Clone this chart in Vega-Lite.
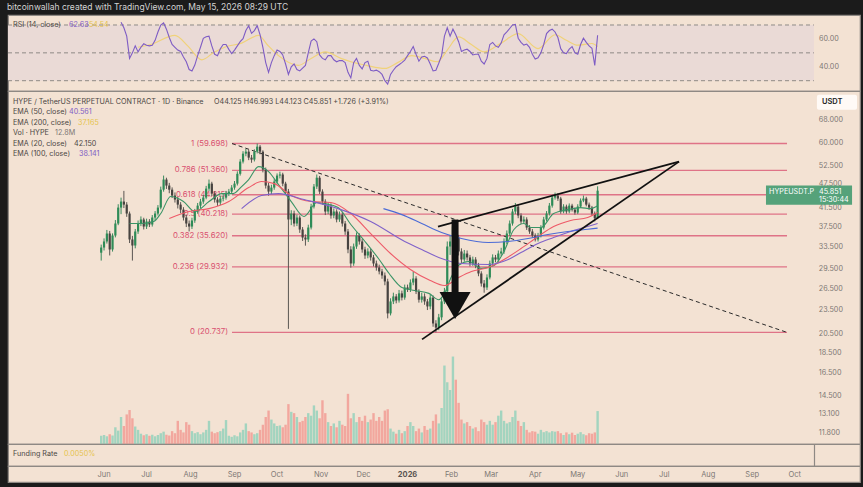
{
"$schema":"https://vega.github.io/schema/vega-lite/v6.json",
"background":"#1b1b1b",
"padding":{"left":6,"top":2,"right":5,"bottom":6},
"spacing":0,
"bounds":"flush",
"title":{"text":"bitcoinwallah created with TradingView.com, May 15, 2026 08:29 UTC","anchor":"start","color":"#d4d4d4","fontSize":8.5,"fontWeight":"normal","offset":3},
"config":{"view":{"stroke":"#8e8984","strokeWidth":1.2,"fill":"#f3e2d3"},"font":"Inter","scale":{"continuousPadding":0}},
"datasets":{
"k":[
{"d":"2025-05-30","o":32.4,"h":33.9,"l":31,"c":33.35,"v":3.2},
{"d":"2025-06-01","o":33.35,"h":35.1,"l":32.8,"c":34.5,"v":3.5},
{"d":"2025-06-03","o":34.5,"h":36.8,"l":34.1,"c":36.07,"v":3},
{"d":"2025-06-05","o":36.07,"h":36.6,"l":31.9,"c":32.99,"v":3.8},
{"d":"2025-06-07","o":32.99,"h":36.1,"l":32.6,"c":35.67,"v":3.3},
{"d":"2025-06-09","o":35.67,"h":38.9,"l":35.3,"c":38.15,"v":6.5},
{"d":"2025-06-11","o":38.15,"h":42.5,"l":37.8,"c":41.71,"v":5.2},
{"d":"2025-06-13","o":41.71,"h":44.1,"l":40.2,"c":43.14,"v":10.5,"r":72},
{"d":"2025-06-15","o":43.14,"h":45.8,"l":41.6,"c":42.41,"v":7,"r":68},
{"d":"2025-06-17","o":42.41,"h":43,"l":39.6,"c":40.34,"v":11.5,"r":62},
{"d":"2025-06-19","o":40.34,"h":40.8,"l":34.2,"c":34.89,"v":13.2,"r":46},
{"d":"2025-06-21","o":34.89,"h":35.6,"l":31,"c":33.73,"v":10,"r":50},
{"d":"2025-06-23","o":33.73,"h":37,"l":33.2,"c":36.48,"v":6.8,"r":55},
{"d":"2025-06-25","o":36.48,"h":38.8,"l":36,"c":38.15,"v":5.5,"r":50.7},
{"d":"2025-06-27","o":38.15,"h":39.7,"l":37.6,"c":39.02,"v":4,"r":54},
{"d":"2025-06-29","o":39.02,"h":39.4,"l":36.9,"c":37.51,"v":3.4,"r":56.5},
{"d":"2025-07-01","o":37.51,"h":39.2,"l":37,"c":38.58,"v":3.8,"r":55.5},
{"d":"2025-07-03","o":38.58,"h":39.1,"l":37.4,"c":37.94,"v":3.2,"r":55},
{"d":"2025-07-05","o":37.94,"h":40,"l":37.5,"c":39.45,"v":3.6,"r":55.5},
{"d":"2025-07-07","o":39.45,"h":40.9,"l":38.9,"c":40.34,"v":3,"r":59},
{"d":"2025-07-09","o":40.34,"h":42.3,"l":39.9,"c":41.71,"v":3.5,"r":65},
{"d":"2025-07-11","o":41.71,"h":46.9,"l":41.3,"c":46.11,"v":4.2,"r":70},
{"d":"2025-07-13","o":46.11,"h":49.9,"l":45.6,"c":48.8,"v":4.8,"r":71.5},
{"d":"2025-07-15","o":48.8,"h":49.3,"l":46.3,"c":47.18,"v":3.6,"r":67},
{"d":"2025-07-17","o":47.18,"h":47.9,"l":45.2,"c":46.11,"v":3.3,"r":61},
{"d":"2025-07-19","o":46.11,"h":46.7,"l":44,"c":44.62,"v":5,"r":56},
{"d":"2025-07-21","o":44.62,"h":45.4,"l":42.9,"c":43.63,"v":4.2,"r":54},
{"d":"2025-07-23","o":43.63,"h":44.3,"l":41.5,"c":42.41,"v":9,"r":52},
{"d":"2025-07-25","o":42.41,"h":43,"l":40.4,"c":41.24,"v":5.5,"r":51},
{"d":"2025-07-27","o":41.24,"h":41.8,"l":38.8,"c":39.45,"v":4.5,"r":47},
{"d":"2025-07-29","o":39.45,"h":40.1,"l":37.4,"c":38.15,"v":8.5,"r":43.6},
{"d":"2025-07-31","o":38.15,"h":38.8,"l":36.5,"c":37.51,"v":7.5,"r":38},
{"d":"2025-08-02","o":37.51,"h":39.4,"l":37,"c":38.8,"v":5,"r":37},
{"d":"2025-08-04","o":38.8,"h":41.4,"l":38.3,"c":40.8,"v":4.2,"r":41.2},
{"d":"2025-08-06","o":40.8,"h":42.8,"l":40.3,"c":42.17,"v":4.6,"r":48},
{"d":"2025-08-08","o":42.17,"h":43.8,"l":41.6,"c":43.14,"v":3.8,"r":54},
{"d":"2025-08-10","o":43.14,"h":44.8,"l":42.6,"c":44.12,"v":4.5,"r":60.4},
{"d":"2025-08-12","o":44.12,"h":47.1,"l":43.7,"c":46.38,"v":5.5,"r":61.5},
{"d":"2025-08-14","o":46.38,"h":48.8,"l":45.8,"c":47.7,"v":9,"r":62},
{"d":"2025-08-16","o":47.7,"h":48.2,"l":44.5,"c":45.1,"v":4.8,"r":55},
{"d":"2025-08-18","o":45.1,"h":45.7,"l":42.9,"c":43.63,"v":4.2,"r":49},
{"d":"2025-08-20","o":43.63,"h":44.2,"l":42.1,"c":42.9,"v":4.6,"r":48},
{"d":"2025-08-22","o":42.9,"h":44.6,"l":42.3,"c":43.87,"v":5,"r":53},
{"d":"2025-08-24","o":43.87,"h":45,"l":43.2,"c":44.12,"v":6,"r":56},
{"d":"2025-08-26","o":44.12,"h":45.8,"l":43.6,"c":45.1,"v":9.3,"r":56},
{"d":"2025-08-28","o":45.1,"h":46.3,"l":44.5,"c":45.62,"v":3.2,"r":52.5},
{"d":"2025-08-30","o":45.62,"h":47.3,"l":45,"c":46.65,"v":2.8,"r":49.5},
{"d":"2025-09-01","o":46.65,"h":48.4,"l":46.1,"c":47.7,"v":3.4,"r":52},
{"d":"2025-09-03","o":47.7,"h":51.1,"l":47.2,"c":50.4,"v":3,"r":55},
{"d":"2025-09-05","o":50.4,"h":54.7,"l":49.9,"c":53.96,"v":4.5,"r":58},
{"d":"2025-09-07","o":53.96,"h":57.2,"l":53.4,"c":56.42,"v":5.5,"r":60.2},
{"d":"2025-09-09","o":56.42,"h":57.9,"l":55.6,"c":57.05,"v":8,"r":66},
{"d":"2025-09-11","o":57.05,"h":57.6,"l":54.4,"c":55.17,"v":5,"r":69.5},
{"d":"2025-09-13","o":55.17,"h":56,"l":53.6,"c":54.56,"v":4.5,"r":64},
{"d":"2025-09-15","o":54.56,"h":57.8,"l":54,"c":57.05,"v":3.8,"r":66},
{"d":"2025-09-17","o":57.05,"h":59.7,"l":56.5,"c":58.67,"v":4.2,"r":69.5},
{"d":"2025-09-19","o":58.67,"h":59.2,"l":56.2,"c":57.05,"v":5.5,"r":63},
{"d":"2025-09-21","o":57.05,"h":57.5,"l":50.8,"c":51.6,"v":7.5,"r":54},
{"d":"2025-09-23","o":51.6,"h":52.2,"l":46.4,"c":47.18,"v":10.5,"r":43},
{"d":"2025-09-25","o":47.18,"h":47.9,"l":44.6,"c":45.62,"v":13,"r":36},
{"d":"2025-09-27","o":45.62,"h":47.4,"l":45,"c":46.65,"v":9.5,"r":43},
{"d":"2025-09-29","o":46.65,"h":48.9,"l":46.1,"c":48.25,"v":8,"r":48},
{"d":"2025-10-01","o":48.25,"h":50.5,"l":47.7,"c":49.9,"v":7,"r":52},
{"d":"2025-10-03","o":49.9,"h":51,"l":49.1,"c":50.2,"v":7.2,"r":51},
{"d":"2025-10-05","o":50.2,"h":50.7,"l":47,"c":47.7,"v":6.5,"r":48.5},
{"d":"2025-10-07","o":47.7,"h":48.2,"l":44.9,"c":45.62,"v":7.5,"r":42},
{"d":"2025-10-09","o":45.62,"h":46.3,"l":21.15,"c":39.02,"v":15.5,"r":34.5},
{"d":"2025-10-11","o":39.02,"h":41.1,"l":37.8,"c":40.34,"v":12.5,"r":40},
{"d":"2025-10-13","o":40.34,"h":41,"l":37.5,"c":38.15,"v":12,"r":42},
{"d":"2025-10-15","o":38.15,"h":40.1,"l":37.6,"c":39.45,"v":10.5,"r":38},
{"d":"2025-10-17","o":39.45,"h":39.9,"l":36.2,"c":36.89,"v":8.5,"r":37},
{"d":"2025-10-19","o":36.89,"h":37.4,"l":34.6,"c":35.27,"v":9,"r":39},
{"d":"2025-10-21","o":35.27,"h":35.9,"l":33.7,"c":34.89,"v":10.5,"r":41},
{"d":"2025-10-23","o":34.89,"h":37.9,"l":34.4,"c":37.3,"v":12,"r":50},
{"d":"2025-10-25","o":37.3,"h":42.6,"l":36.9,"c":41.95,"v":11,"r":58.5},
{"d":"2025-10-27","o":41.95,"h":47.6,"l":41.5,"c":46.92,"v":15,"r":60},
{"d":"2025-10-29","o":46.92,"h":50.2,"l":46.3,"c":49.3,"v":13,"r":58},
{"d":"2025-10-31","o":49.3,"h":49.8,"l":45,"c":45.62,"v":10,"r":48.5},
{"d":"2025-11-02","o":45.62,"h":46.2,"l":42.4,"c":43.14,"v":17,"r":46},
{"d":"2025-11-04","o":43.14,"h":43.7,"l":40,"c":40.8,"v":12,"r":45},
{"d":"2025-11-06","o":40.8,"h":42.9,"l":40.2,"c":42.17,"v":8.5,"r":48},
{"d":"2025-11-08","o":42.17,"h":42.7,"l":39.2,"c":39.9,"v":7,"r":48},
{"d":"2025-11-10","o":39.9,"h":41.5,"l":39.3,"c":40.8,"v":8,"r":45},
{"d":"2025-11-12","o":40.8,"h":41.3,"l":38.4,"c":39.02,"v":6.5,"r":43.6},
{"d":"2025-11-14","o":39.02,"h":40.8,"l":38.5,"c":40.1,"v":9,"r":44.5},
{"d":"2025-11-16","o":40.1,"h":40.6,"l":37.5,"c":38.15,"v":7.5,"r":44.4},
{"d":"2025-11-18","o":38.15,"h":38.7,"l":35.8,"c":36.48,"v":7,"r":43},
{"d":"2025-11-20","o":36.48,"h":37,"l":32.3,"c":32.99,"v":19.5,"r":36},
{"d":"2025-11-22","o":32.99,"h":33.6,"l":29.8,"c":30.5,"v":10,"r":32},
{"d":"2025-11-24","o":30.5,"h":34.1,"l":30.1,"c":33.54,"v":12,"r":43},
{"d":"2025-11-26","o":33.54,"h":36.3,"l":33.1,"c":35.67,"v":8.5,"r":46},
{"d":"2025-11-28","o":35.67,"h":36.1,"l":33.9,"c":34.5,"v":10.5,"r":41},
{"d":"2025-11-30","o":34.5,"h":35,"l":32.4,"c":32.99,"v":9,"r":38.5},
{"d":"2025-12-02","o":32.99,"h":33.5,"l":31.3,"c":31.9,"v":11,"r":43},
{"d":"2025-12-04","o":31.9,"h":33.2,"l":31.4,"c":32.62,"v":8.5,"r":44},
{"d":"2025-12-06","o":32.62,"h":33.1,"l":31,"c":31.55,"v":9.5,"r":37.5},
{"d":"2025-12-08","o":31.55,"h":32,"l":30,"c":30.5,"v":12,"r":37},
{"d":"2025-12-10","o":30.5,"h":31,"l":29.3,"c":29.83,"v":9,"r":37.6},
{"d":"2025-12-12","o":29.83,"h":30.3,"l":28.7,"c":29.17,"v":10.5,"r":36.5},
{"d":"2025-12-14","o":29.17,"h":29.6,"l":28,"c":28.52,"v":9,"r":34.5},
{"d":"2025-12-16","o":28.52,"h":29,"l":27,"c":27.58,"v":13,"r":30},
{"d":"2025-12-18","o":27.58,"h":28,"l":22.43,"c":23.06,"v":13.5,"r":27.5},
{"d":"2025-12-20","o":23.06,"h":25.1,"l":22.8,"c":24.66,"v":6,"r":34.5},
{"d":"2025-12-22","o":24.66,"h":25.9,"l":24.3,"c":25.36,"v":4.8,"r":37.5},
{"d":"2025-12-24","o":25.36,"h":25.7,"l":24.4,"c":24.8,"v":4,"r":40},
{"d":"2025-12-26","o":24.8,"h":26.3,"l":24.5,"c":25.8,"v":5.5,"r":41.5},
{"d":"2025-12-28","o":25.8,"h":26.2,"l":24.8,"c":25.2,"v":4.2,"r":43},
{"d":"2025-12-30","o":25.2,"h":27.1,"l":24.9,"c":26.67,"v":5,"r":44.8},
{"d":"2026-01-01","o":26.67,"h":27.1,"l":26,"c":26.37,"v":7,"r":48},
{"d":"2026-01-03","o":26.37,"h":27.9,"l":26,"c":27.42,"v":8.5,"r":51},
{"d":"2026-01-05","o":27.42,"h":29.17,"l":27,"c":28.04,"v":7,"r":54.5},
{"d":"2026-01-07","o":28.04,"h":28.4,"l":25.7,"c":26.08,"v":5,"r":49},
{"d":"2026-01-09","o":26.08,"h":26.4,"l":24.5,"c":24.9,"v":6,"r":44},
{"d":"2026-01-11","o":24.9,"h":25.9,"l":24.5,"c":25.36,"v":4.5,"r":47},
{"d":"2026-01-13","o":25.36,"h":25.8,"l":24.2,"c":24.66,"v":7,"r":47.5},
{"d":"2026-01-15","o":24.66,"h":25,"l":23.5,"c":23.98,"v":5.5,"r":46.3},
{"d":"2026-01-17","o":23.98,"h":25.6,"l":23.6,"c":25.2,"v":6,"r":42},
{"d":"2026-01-19","o":25.2,"h":25.5,"l":21.4,"c":21.8,"v":9,"r":37},
{"d":"2026-01-21","o":21.8,"h":22.2,"l":20.74,"c":21.3,"v":11.5,"r":37.5},
{"d":"2026-01-23","o":21.3,"h":23,"l":21,"c":22.56,"v":8,"r":42.5},
{"d":"2026-01-25","o":22.56,"h":25.1,"l":22.2,"c":24.66,"v":14,"r":48},
{"d":"2026-01-27","o":24.66,"h":26.6,"l":24.3,"c":26.08,"v":30.5,"r":62},
{"d":"2026-01-29","o":26.08,"h":34.5,"l":25.8,"c":33.54,"v":24,"r":68},
{"d":"2026-01-31","o":33.54,"h":35.8,"l":32,"c":34.5,"v":21,"r":62},
{"d":"2026-02-02","o":34.5,"h":39,"l":33.8,"c":37.51,"v":34,"r":67},
{"d":"2026-02-04","o":37.51,"h":38.1,"l":34.5,"c":35.27,"v":25,"r":63},
{"d":"2026-02-06","o":35.27,"h":35.8,"l":31.9,"c":32.62,"v":16,"r":58},
{"d":"2026-02-08","o":32.62,"h":33.2,"l":30.6,"c":31.19,"v":9.5,"r":51},
{"d":"2026-02-10","o":31.19,"h":32.9,"l":30.8,"c":32.25,"v":8,"r":52},
{"d":"2026-02-12","o":32.25,"h":32.8,"l":31,"c":31.55,"v":8.5,"r":52.6},
{"d":"2026-02-14","o":31.55,"h":32,"l":30,"c":30.5,"v":7,"r":51},
{"d":"2026-02-16","o":30.5,"h":31.7,"l":30.1,"c":31.19,"v":6,"r":48.5},
{"d":"2026-02-18","o":31.19,"h":31.6,"l":29.7,"c":30.17,"v":6.5,"r":49},
{"d":"2026-02-20","o":30.17,"h":30.6,"l":28.4,"c":28.84,"v":5,"r":49},
{"d":"2026-02-22","o":28.84,"h":29.2,"l":26.8,"c":27.27,"v":9.5,"r":44},
{"d":"2026-02-24","o":27.27,"h":27.8,"l":25.9,"c":26.67,"v":8.5,"r":42},
{"d":"2026-02-26","o":26.67,"h":28.7,"l":26.3,"c":28.2,"v":7.5,"r":46},
{"d":"2026-02-28","o":28.2,"h":31,"l":27.9,"c":30.5,"v":9,"r":56},
{"d":"2026-03-02","o":30.5,"h":32.1,"l":30.1,"c":31.55,"v":7.5,"r":57.5},
{"d":"2026-03-04","o":31.55,"h":32,"l":30.7,"c":31.19,"v":8.5,"r":55},
{"d":"2026-03-06","o":31.19,"h":32.8,"l":30.8,"c":32.25,"v":11,"r":54},
{"d":"2026-03-08","o":32.25,"h":33.3,"l":31.8,"c":32.62,"v":13,"r":57},
{"d":"2026-03-10","o":32.62,"h":35.1,"l":32.2,"c":34.5,"v":9,"r":63},
{"d":"2026-03-12","o":34.5,"h":36.7,"l":34,"c":36.07,"v":8,"r":65},
{"d":"2026-03-14","o":36.07,"h":38.8,"l":35.6,"c":38.15,"v":8.5,"r":67.5},
{"d":"2026-03-16","o":38.15,"h":41.4,"l":37.7,"c":40.8,"v":10.5,"r":70},
{"d":"2026-03-18","o":40.8,"h":42.8,"l":40.2,"c":41.95,"v":13,"r":70.5},
{"d":"2026-03-20","o":41.95,"h":42.4,"l":39.3,"c":39.9,"v":9,"r":60.5},
{"d":"2026-03-22","o":39.9,"h":40.4,"l":38,"c":38.58,"v":7,"r":57.5},
{"d":"2026-03-24","o":38.58,"h":39.7,"l":38.1,"c":39.02,"v":8.5,"r":55.6},
{"d":"2026-03-26","o":39.02,"h":39.5,"l":36.8,"c":37.3,"v":5.5,"r":56.3},
{"d":"2026-03-28","o":37.3,"h":37.8,"l":36,"c":36.48,"v":4.5,"r":54},
{"d":"2026-03-30","o":36.48,"h":37,"l":35.2,"c":35.67,"v":5,"r":49},
{"d":"2026-04-01","o":35.67,"h":36.1,"l":34.5,"c":34.89,"v":4.8,"r":45.5},
{"d":"2026-04-03","o":34.89,"h":36.2,"l":34.5,"c":35.67,"v":4,"r":46.5},
{"d":"2026-04-05","o":35.67,"h":37.8,"l":35.3,"c":37.3,"v":5.5,"r":50},
{"d":"2026-04-07","o":37.3,"h":39.6,"l":36.9,"c":39.02,"v":4.6,"r":56},
{"d":"2026-04-09","o":39.02,"h":40.9,"l":38.6,"c":40.34,"v":5,"r":63.8},
{"d":"2026-04-11","o":40.34,"h":42.8,"l":39.9,"c":42.17,"v":4.5,"r":66},
{"d":"2026-04-13","o":42.17,"h":44.8,"l":41.7,"c":44.12,"v":5,"r":67},
{"d":"2026-04-15","o":44.12,"h":45.36,"l":43.6,"c":44.62,"v":4.8,"r":65},
{"d":"2026-04-17","o":44.62,"h":45.2,"l":43.3,"c":43.87,"v":5,"r":61},
{"d":"2026-04-19","o":43.87,"h":44.3,"l":40.3,"c":40.8,"v":4.2,"r":53},
{"d":"2026-04-21","o":40.8,"h":42.5,"l":40.4,"c":41.95,"v":3.5,"r":50},
{"d":"2026-04-23","o":41.95,"h":42.4,"l":40.3,"c":40.8,"v":4.5,"r":49.5},
{"d":"2026-04-25","o":40.8,"h":42.7,"l":40.4,"c":42.17,"v":3.8,"r":52.7},
{"d":"2026-04-27","o":42.17,"h":42.6,"l":40.8,"c":41.24,"v":4.4,"r":54.5},
{"d":"2026-04-29","o":41.24,"h":41.7,"l":40.1,"c":40.57,"v":3.5,"r":50},
{"d":"2026-05-01","o":40.57,"h":42.5,"l":40.2,"c":41.95,"v":4,"r":49},
{"d":"2026-05-03","o":41.95,"h":43.9,"l":41.6,"c":43.38,"v":4.6,"r":56},
{"d":"2026-05-05","o":43.38,"h":44.62,"l":43,"c":43.87,"v":3.8,"r":60.5},
{"d":"2026-05-07","o":43.87,"h":44.3,"l":42,"c":42.41,"v":3.4,"r":57.5},
{"d":"2026-05-09","o":42.41,"h":42.9,"l":41.2,"c":41.71,"v":4.2,"r":55},
{"d":"2026-05-11","o":41.71,"h":42.1,"l":39.9,"c":40.34,"v":4,"r":53.3},
{"d":"2026-05-13","o":40.34,"h":40.8,"l":38.6,"c":39.3,"v":4.5,"r":41},
{"d":"2026-05-15","o":39.3,"h":46.99,"l":39.1,"c":45.85,"v":12.8,"r":62.6}
],
"ema":[
{"d":"2025-06-19","s":"e20","p":38.15},{"d":"2025-06-27","s":"e20","p":38.15},{"d":"2025-07-06","s":"e20","p":38.58},{"d":"2025-07-11","s":"e20","p":40.34},{"d":"2025-07-18","s":"e20","p":44.37},{"d":"2025-07-27","s":"e20","p":43.14},{"d":"2025-08-04","s":"e20","p":40.8},{"d":"2025-08-14","s":"e20","p":43.14},{"d":"2025-08-23","s":"e20","p":45.1},{"d":"2025-08-31","s":"e20","p":45.1},{"d":"2025-09-06","s":"e20","p":46.92},{"d":"2025-09-11","s":"e20","p":48.8},{"d":"2025-09-18","s":"e20","p":52.47},{"d":"2025-09-25","s":"e20","p":51.02},{"d":"2025-10-02","s":"e20","p":47.45},{"d":"2025-10-11","s":"e20","p":43.14},{"d":"2025-10-20","s":"e20","p":39.67},{"d":"2025-10-29","s":"e20","p":42.9},{"d":"2025-11-03","s":"e20","p":42.65},{"d":"2025-11-13","s":"e20","p":41.71},{"d":"2025-11-22","s":"e20","p":37.94},{"d":"2025-12-02","s":"e20","p":34.5},{"d":"2025-12-12","s":"e20","p":31.19},{"d":"2025-12-19","s":"e20","p":28.84},{"d":"2025-12-28","s":"e20","p":26.67},{"d":"2026-01-06","s":"e20","p":26.23},{"d":"2026-01-16","s":"e20","p":25.8},{"d":"2026-01-23","s":"e20","p":24.9},{"d":"2026-01-27","s":"e20","p":25.8},{"d":"2026-02-01","s":"e20","p":28.36},{"d":"2026-02-06","s":"e20","p":30.2},{"d":"2026-02-13","s":"e20","p":30.84},{"d":"2026-02-22","s":"e20","p":29.67},{"d":"2026-03-03","s":"e20","p":30.17},{"d":"2026-03-10","s":"e20","p":32.62},{"d":"2026-03-17","s":"e20","p":36.89},{"d":"2026-03-24","s":"e20","p":38.15},{"d":"2026-03-29","s":"e20","p":37.3},{"d":"2026-04-05","s":"e20","p":37.3},{"d":"2026-04-14","s":"e20","p":40.34},{"d":"2026-04-24","s":"e20","p":41.24},{"d":"2026-05-03","s":"e20","p":41.71},{"d":"2026-05-10","s":"e20","p":41.47},{"d":"2026-05-15","s":"e20","p":42.15},
{"d":"2025-07-17","s":"e50","p":39.24},{"d":"2025-07-31","s":"e50","p":40.8},{"d":"2025-08-14","s":"e50","p":41.47},{"d":"2025-08-28","s":"e50","p":43.14},{"d":"2025-09-11","s":"e50","p":46.65},{"d":"2025-09-20","s":"e50","p":48.25},{"d":"2025-09-29","s":"e50","p":47.7},{"d":"2025-10-11","s":"e50","p":44.62},{"d":"2025-10-25","s":"e50","p":43.14},{"d":"2025-11-08","s":"e50","p":42.9},{"d":"2025-11-22","s":"e50","p":40.34},{"d":"2025-12-06","s":"e50","p":36.07},{"d":"2025-12-20","s":"e50","p":32.25},{"d":"2026-01-03","s":"e50","p":29.5},{"d":"2026-01-17","s":"e50","p":27.73},{"d":"2026-01-27","s":"e50","p":26.96},{"d":"2026-02-06","s":"e50","p":28.2},{"d":"2026-02-15","s":"e50","p":29.17},{"d":"2026-02-27","s":"e50","p":29.83},{"d":"2026-03-10","s":"e50","p":31.19},{"d":"2026-03-22","s":"e50","p":33.16},{"d":"2026-04-03","s":"e50","p":35.47},{"d":"2026-04-14","s":"e50","p":37.51},{"d":"2026-04-26","s":"e50","p":38.8},{"d":"2026-05-08","s":"e50","p":39.45},{"d":"2026-05-15","s":"e50","p":40.56},
{"d":"2025-09-06","s":"e100","p":41.47},{"d":"2025-09-20","s":"e100","p":44.62},{"d":"2025-10-02","s":"e100","p":45.1},{"d":"2025-10-20","s":"e100","p":43.63},{"d":"2025-11-13","s":"e100","p":41.47},{"d":"2025-12-06","s":"e100","p":38.58},{"d":"2025-12-30","s":"e100","p":34.5},{"d":"2026-01-11","s":"e100","p":32.99},{"d":"2026-01-23","s":"e100","p":31.55},{"d":"2026-02-08","s":"e100","p":30.5},{"d":"2026-02-27","s":"e100","p":30.33},{"d":"2026-03-13","s":"e100","p":31.19},{"d":"2026-03-22","s":"e100","p":32.43},{"d":"2026-04-03","s":"e100","p":34.12},{"d":"2026-04-14","s":"e100","p":35.27},{"d":"2026-04-26","s":"e100","p":36.48},{"d":"2026-05-08","s":"e100","p":37.51},{"d":"2026-05-15","s":"e100","p":38.14},
{"d":"2025-12-15","s":"e200","p":41.47},{"d":"2025-12-28","s":"e200","p":40.1},{"d":"2026-01-11","s":"e200","p":38.15},{"d":"2026-01-25","s":"e200","p":36.27},{"d":"2026-02-08","s":"e200","p":35.08},{"d":"2026-02-27","s":"e200","p":34.31},{"d":"2026-03-13","s":"e200","p":34.5},{"d":"2026-03-27","s":"e200","p":35.08},{"d":"2026-04-10","s":"e200","p":35.87},{"d":"2026-04-24","s":"e200","p":36.48},{"d":"2026-05-08","s":"e200","p":36.94},{"d":"2026-05-15","s":"e200","p":37.17}
],
"rma":[
{"d":"2025-06-25","r":54},{"d":"2025-07-04","r":56},{"d":"2025-07-21","r":62.6},{"d":"2025-07-30","r":55},{"d":"2025-08-09","r":45},{"d":"2025-08-17","r":50},{"d":"2025-08-25","r":54},{"d":"2025-09-06","r":57},{"d":"2025-09-18","r":62.6},{"d":"2025-09-24","r":56},{"d":"2025-10-02","r":48},{"d":"2025-10-16","r":41},{"d":"2025-10-25","r":46},{"d":"2025-11-04","r":50.7},{"d":"2025-11-15","r":46},{"d":"2025-11-22","r":43.6},{"d":"2025-12-03","r":41},{"d":"2025-12-16","r":38.8},{"d":"2025-12-25","r":43},{"d":"2026-01-04","r":48},{"d":"2026-01-13","r":46},{"d":"2026-01-22","r":43.6},{"d":"2026-01-29","r":52},{"d":"2026-02-06","r":61.4},{"d":"2026-02-15","r":56},{"d":"2026-02-24","r":50.7},{"d":"2026-03-08","r":57},{"d":"2026-03-20","r":63.8},{"d":"2026-04-03","r":53},{"d":"2026-04-15","r":63},{"d":"2026-04-23","r":59},{"d":"2026-05-01","r":55.5},{"d":"2026-05-11","r":56.7},{"d":"2026-05-15","r":54.5}
],
"fib":[
{"t":"1 (59.698)","p":59.698,"d":"2025-08-30T05:30:00Z","d2":"2026-09-25T13:00:00Z","dl":"2025-08-27T09:40:00Z"},
{"t":"0.786 (51.360)","p":51.36,"d":"2025-08-30T05:30:00Z","d2":"2026-09-25T13:00:00Z","dl":"2025-08-27T09:40:00Z"},
{"t":"0.618 (44.815)","p":44.815,"d":"2025-08-30T05:30:00Z","d2":"2026-09-25T13:00:00Z","dl":"2025-08-27T09:40:00Z"},
{"t":"0.5 (40.218)","p":40.218,"d":"2025-08-30T05:30:00Z","d2":"2026-09-25T13:00:00Z","dl":"2025-08-27T09:40:00Z"},
{"t":"0.382 (35.620)","p":35.62,"d":"2025-08-30T05:30:00Z","d2":"2026-09-25T13:00:00Z","dl":"2025-08-27T09:40:00Z"},
{"t":"0.236 (29.932)","p":29.932,"d":"2025-08-30T05:30:00Z","d2":"2026-09-25T13:00:00Z","dl":"2025-08-27T09:40:00Z"},
{"t":"0 (20.737)","p":20.737,"d":"2025-08-30T05:30:00Z","d2":"2026-09-25T13:00:00Z","dl":"2025-08-27T09:40:00Z"}
],
"tl":[
{"g":"dash","d":"2025-08-30T05:30:00Z","p":59.698},{"g":"dash","d":"2026-09-25T13:00:00Z","p":20.737},
{"g":"up","d":"2026-01-22T11:20:00Z","p":37.51},{"g":"up","d":"2026-07-11T09:40:00Z","p":53.95},
{"g":"lo","d":"2026-01-11T05:00:00Z","p":19.94},{"g":"lo","d":"2026-07-11T09:40:00Z","p":53.95}
],
"leg":[
{"d":"2025-03-28T19:40:00Z","p":75.46,"t":"HYPE / TetherUS PERPETUAL CONTRACT · 1D · Binance","k":"lab"},
{"d":"2025-08-17T12:45:00Z","p":75.46,"t":"O44.125 H46.993 L44.123 C45.851 +1.726 (+3.91%)","k":"ohlc"},
{"d":"2025-03-28T19:40:00Z","p":71.16,"t":"EMA (50, close)","k":"lab"},
{"d":"2025-05-07T07:15:00Z","p":71.16,"t":"40.561","k":"e50"},
{"d":"2025-03-28T19:40:00Z","p":67.1,"t":"EMA (200, close)","k":"lab"},
{"d":"2025-05-13T15:30:00Z","p":67.1,"t":"37.165","k":"e200"},
{"d":"2025-03-28T19:40:00Z","p":63.27,"t":"Vol · HYPE","k":"lab"},
{"d":"2025-04-27T10:20:00Z","p":63.27,"t":"12.8M","k":"vol"},
{"d":"2025-03-28T19:40:00Z","p":59.67,"t":"EMA (20, close)","k":"lab"},
{"d":"2025-05-10T19:45:00Z","p":59.67,"t":"42.150","k":"e20"},
{"d":"2025-03-28T19:40:00Z","p":56.26,"t":"EMA (100, close)","k":"lab"},
{"d":"2025-05-14T08:30:00Z","p":56.26,"t":"38.141","k":"e100"}
],
"ax":[
{"p":68,"t":"68.000"},{"p":60,"t":"60.000"},{"p":52.5,"t":"52.500"},{"p":47.5,"t":"47.500"},{"p":41.5,"t":"41.500"},{"p":37.5,"t":"37.500"},{"p":33.5,"t":"33.500"},{"p":29.5,"t":"29.500"},{"p":26.5,"t":"26.500"},{"p":23.5,"t":"23.500"},{"p":20.5,"t":"20.500"},{"p":18.5,"t":"18.500"},{"p":16.5,"t":"16.500"},{"p":14.5,"t":"14.500"},{"p":13.1,"t":"13.100"},{"p":11.8,"t":"11.800"}
],
"mo":[
{"d":"2025-06-01","t":"Jun"},{"d":"2025-07-01","t":"Jul"},{"d":"2025-08-01","t":"Aug"},{"d":"2025-09-01","t":"Sep"},{"d":"2025-10-01","t":"Oct"},{"d":"2025-11-01","t":"Nov"},{"d":"2025-12-01","t":"Dec"},{"d":"2026-01-01","t":"2026"},{"d":"2026-02-01","t":"Feb"},{"d":"2026-03-01","t":"Mar"},{"d":"2026-04-01","t":"Apr"},{"d":"2026-05-01","t":"May"},{"d":"2026-06-01","t":"Jun"},{"d":"2026-07-01","t":"Jul"},{"d":"2026-08-01","t":"Aug"},{"d":"2026-09-01","t":"Sep"},{"d":"2026-10-01","t":"Oct"}
]
},
"vconcat":[
{
"width":852,"height":76,
"layer":[
{"data":{"values":[{"d":"2025-03-25T07:00:00Z","d2":"2026-10-14T12:00:00Z","lo":30,"hi":70}]},
 "mark":{"type":"rect","fill":"#eadad6"},
 "encoding":{
  "x":{"field":"d","type":"temporal","scale":{"type":"utc","domain":[1742886000000,1794787200000],"nice":false,"padding":0},"axis":null},
  "x2":{"field":"d2"},
  "y":{"field":"lo","type":"quantitative","scale":{"domain":[22.6,77.18],"nice":false,"zero":false},
   "axis":{"orient":"right","offset":-46,"labels":false,"ticks":false,"grid":false,"domain":true,"domainColor":"#8e8984","domainWidth":1.2,"title":null}},
  "y2":{"field":"hi"}}},
{"data":{"values":[{"d":"2025-03-25T07:00:00Z","d2":"2026-10-14T12:00:00Z","v":30},{"d":"2025-03-25T07:00:00Z","d2":"2026-10-14T12:00:00Z","v":50},{"d":"2025-03-25T07:00:00Z","d2":"2026-10-14T12:00:00Z","v":70}]},
 "mark":{"type":"rule","color":"#8f8a86","strokeWidth":1,"strokeDash":[4,3]},
 "encoding":{
  "x":{"field":"d","type":"temporal","scale":{"type":"utc","domain":[1742886000000,1794787200000],"nice":false,"padding":0},"axis":null},
  "x2":{"field":"d2"},
  "y":{"field":"v","type":"quantitative","axis":null}}},
{"data":{"name":"rma"},
 "mark":{"type":"line","color":"#f0d27a","strokeWidth":1.2,"interpolate":"monotone"},
 "encoding":{
  "x":{"field":"d","type":"temporal","scale":{"type":"utc","domain":[1742886000000,1794787200000],"nice":false,"padding":0},"axis":null},
  "y":{"field":"r","type":"quantitative","axis":null}}},
{"data":{"name":"k"},
 "mark":{"type":"line","color":"#7e5cc4","strokeWidth":1.1},
 "encoding":{
  "x":{"field":"d","type":"temporal","scale":{"type":"utc","domain":[1742886000000,1794787200000],"nice":false,"padding":0},"axis":null},
  "y":{"field":"r","type":"quantitative","axis":null}}},
{"data":{"values":[{"d":"2025-03-28T19:40:00Z","v":70,"t":"RSI (14, close)","k":"lab"},{"d":"2025-05-07T07:15:00Z","v":70,"t":"62.63","k":"rsi"},{"d":"2025-05-21T09:40:00Z","v":70,"t":"54.54","k":"ma"},{"d":"2026-10-18T02:00:00Z","v":60,"t":"60.00","k":"ax"},{"d":"2026-10-18T02:00:00Z","v":40,"t":"40.00","k":"ax"}]},
 "mark":{"type":"text","align":"left","baseline":"middle","fontSize":7.2},
 "encoding":{
  "x":{"field":"d","type":"temporal","scale":{"type":"utc","domain":[1742886000000,1794787200000],"nice":false,"padding":0},"axis":null},
  "y":{"field":"v","type":"quantitative","axis":null},
  "text":{"field":"t"},
  "fill":{"field":"k","type":"nominal","scale":{"domain":["lab","rsi","ma","ax"],"range":["#4b4744","#7e5cc4","#e6c24e","#7d7873"]},"legend":null}}}
]
},
{
"width":852,"height":353,
"resolve":{"scale":{"y":"independent"}},
"layer":[
{"data":{"name":"k"},
 "mark":{"type":"bar","width":2.4},
 "encoding":{
  "x":{"field":"d","type":"temporal","scale":{"type":"utc","domain":[1742886000000,1794787200000],"nice":false,"padding":0},"axis":null},
  "y":{"field":"v","type":"quantitative","scale":{"domain":[0,137.2],"nice":false},"axis":null},
  "color":{"condition":{"test":"datum.c >= datum.o","value":"#a3d4bf"},"value":"#f2a79e"}}},
{"layer":[
 {"data":{"name":"fib"},
  "mark":{"type":"rule","color":"#df7387","strokeWidth":1.4},
  "encoding":{
   "x":{"field":"d","type":"temporal","scale":{"type":"utc","domain":[1742886000000,1794787200000],"nice":false,"padding":0},"axis":null},
   "x2":{"field":"d2"},
   "y":{"field":"p","type":"quantitative","scale":{"type":"log","domain":[11.1,80.12],"nice":false},
    "axis":{"orient":"right","offset":-46,"labels":false,"ticks":false,"grid":false,"domain":true,"domainColor":"#8e8984","domainWidth":1.2,"title":null}}}},
 {"data":{"name":"ax"},
  "mark":{"type":"text","align":"left","baseline":"middle","fontSize":7.2,"color":"#7d7873"},
  "encoding":{
   "x":{"datum":{"year":2026,"month":10,"date":18,"utc":true},"type":"temporal","scale":{"type":"utc","domain":[1742886000000,1794787200000],"nice":false,"padding":0},"axis":null},
   "y":{"field":"p","type":"quantitative","axis":null},
   "text":{"field":"t"}}},
 {"data":{"name":"fib"},
  "mark":{"type":"text","align":"right","baseline":"middle","fontSize":7.8,"color":"#d9506f"},
  "encoding":{
   "x":{"field":"dl","type":"temporal","scale":{"type":"utc","domain":[1742886000000,1794787200000],"nice":false,"padding":0},"axis":null},
   "y":{"field":"p","type":"quantitative","axis":null},
   "text":{"field":"t"}}},
 {"data":{"name":"tl"},
  "transform":[{"filter":"datum.g == 'dash'"}],
  "mark":{"type":"line","color":"#2a2a2a","strokeWidth":1,"strokeDash":[4,3]},
  "encoding":{
   "x":{"field":"d","type":"temporal","scale":{"type":"utc","domain":[1742886000000,1794787200000],"nice":false,"padding":0},"axis":null},
   "y":{"field":"p","type":"quantitative","axis":null}}},
 {"data":{"name":"k"},
  "mark":{"type":"rule","strokeWidth":1},
  "encoding":{
   "x":{"field":"d","type":"temporal","scale":{"type":"utc","domain":[1742886000000,1794787200000],"nice":false,"padding":0},"axis":null},
   "y":{"field":"l","type":"quantitative","axis":null},
   "y2":{"field":"h"},
   "color":{"condition":{"test":"datum.c >= datum.o","value":"#3a8a5e"},"value":"#5a5652"}}},
 {"data":{"name":"k"},
  "mark":{"type":"bar","width":2.2},
  "encoding":{
   "x":{"field":"d","type":"temporal","scale":{"type":"utc","domain":[1742886000000,1794787200000],"nice":false,"padding":0},"axis":null},
   "y":{"field":"o","type":"quantitative","axis":null},
   "y2":{"field":"c"},
   "color":{"condition":{"test":"datum.c >= datum.o","value":"#2e8b57"},"value":"#474340"}}},
 {"data":{"name":"ema"},
  "mark":{"type":"line","strokeWidth":1.1,"interpolate":"monotone"},
  "encoding":{
   "x":{"field":"d","type":"temporal","scale":{"type":"utc","domain":[1742886000000,1794787200000],"nice":false,"padding":0},"axis":null},
   "y":{"field":"p","type":"quantitative","axis":null},
   "color":{"field":"s","type":"nominal","scale":{"domain":["e20","e50","e100","e200"],"range":["#3a9466","#ee5a68","#8062c9","#4c6bd6"]},"legend":null}}},
 {"data":{"name":"tl"},
  "transform":[{"filter":"datum.g != 'dash'"}],
  "mark":{"type":"line","color":"#111111","strokeWidth":1.8},
  "encoding":{
   "x":{"field":"d","type":"temporal","scale":{"type":"utc","domain":[1742886000000,1794787200000],"nice":false,"padding":0},"axis":null},
   "y":{"field":"p","type":"quantitative","axis":null},
   "detail":{"field":"g"}}},
 {"data":{"values":[{"d":"2026-02-03T12:00:00Z","p":39.0,"p2":25.8}]},
  "mark":{"type":"rule","color":"#111111","strokeWidth":7},
  "encoding":{
   "x":{"field":"d","type":"temporal","scale":{"type":"utc","domain":[1742886000000,1794787200000],"nice":false,"padding":0},"axis":null},
   "y":{"field":"p","type":"quantitative","axis":null},
   "y2":{"field":"p2"}}},
 {"data":{"values":[{"d":"2026-02-03T12:00:00Z","p":24.1}]},
  "mark":{"type":"point","shape":"triangle-down","size":961,"filled":true,"color":"#111111","opacity":1},
  "encoding":{
   "x":{"field":"d","type":"temporal","scale":{"type":"utc","domain":[1742886000000,1794787200000],"nice":false,"padding":0},"axis":null},
   "y":{"field":"p","type":"quantitative","axis":null}}},
 {"data":{"name":"leg"},
  "mark":{"type":"text","align":"left","baseline":"middle","fontSize":7.2},
  "encoding":{
   "x":{"field":"d","type":"temporal","scale":{"type":"utc","domain":[1742886000000,1794787200000],"nice":false,"padding":0},"axis":null},
   "y":{"field":"p","type":"quantitative","axis":null},
   "text":{"field":"t"},
   "fill":{"field":"k","type":"nominal","scale":{"domain":["lab","ohlc","e50","e200","vol","e20","e100"],"range":["#4b4744","#2f9a63","#e8505b","#4a6fd8","#35a889","#2f9a63","#7b5bc9"]},"legend":null}}},
 {"data":{"values":[{"d":"2026-09-10T17:00:00Z","d2":"2026-11-10T09:30:00Z","p":47.18,"p2":42.4}]},
  "mark":{"type":"rect","fill":"#55a27a"},
  "encoding":{
   "x":{"field":"d","type":"temporal","scale":{"type":"utc","domain":[1742886000000,1794787200000],"nice":false,"padding":0},"axis":null},
   "x2":{"field":"d2"},
   "y":{"field":"p","type":"quantitative","axis":null},
   "y2":{"field":"p2"}}},
 {"data":{"values":[{"d":"2026-09-12T21:30:00Z","p":45.6,"t":"HYPEUSDT.P"},{"d":"2026-10-18T02:00:00Z","p":45.5,"t":"45.851"},{"d":"2026-10-18T02:00:00Z","p":43.45,"t":"15:30:44"}]},
  "mark":{"type":"text","align":"left","baseline":"middle","fontSize":7.2,"color":"#ffffff"},
  "encoding":{
   "x":{"field":"d","type":"temporal","scale":{"type":"utc","domain":[1742886000000,1794787200000],"nice":false,"padding":0},"axis":null},
   "y":{"field":"p","type":"quantitative","axis":null},
   "text":{"field":"t"}}},
 {"data":{"values":[{"d":"2026-10-16T15:00:00Z","d2":"2026-11-13T22:00:00Z","p":78.47,"p2":72.16}]},
  "mark":{"type":"rect","fill":"#fffaf6","cornerRadius":2},
  "encoding":{
   "x":{"field":"d","type":"temporal","scale":{"type":"utc","domain":[1742886000000,1794787200000],"nice":false,"padding":0},"axis":null},
   "x2":{"field":"d2"},
   "y":{"field":"p","type":"quantitative","axis":null},
   "y2":{"field":"p2"}}},
 {"data":{"values":[{"d":"2026-10-20T03:00:00Z","p":75.3,"t":"USDT"}]},
  "mark":{"type":"text","align":"left","baseline":"middle","fontSize":7.5,"fontWeight":600,"color":"#222222"},
  "encoding":{
   "x":{"field":"d","type":"temporal","scale":{"type":"utc","domain":[1742886000000,1794787200000],"nice":false,"padding":0},"axis":null},
   "y":{"field":"p","type":"quantitative","axis":null},
   "text":{"field":"t"}}}
]}
]
},
{
"width":852,"height":22,
"data":{"values":[{"d":"2025-03-28T19:40:00Z","p":0.55,"t":"Funding Rate","k":"lab"},{"d":"2025-05-03T18:30:00Z","p":0.55,"t":"0.0050%","k":"fr"}]},
"mark":{"type":"text","align":"left","baseline":"middle","fontSize":7.2},
"encoding":{
 "x":{"field":"d","type":"temporal","scale":{"type":"utc","domain":[1742886000000,1794787200000],"nice":false,"padding":0},"axis":null},
 "y":{"field":"p","type":"quantitative","scale":{"domain":[0,1]},"axis":{"orient":"right","offset":-46,"labels":false,"ticks":false,"grid":false,"domain":true,"domainColor":"#8e8984","domainWidth":1.2,"title":null}},
 "text":{"field":"t"},
 "fill":{"field":"k","type":"nominal","scale":{"domain":["lab","fr"],"range":["#4b4744","#2ea37f"]},"legend":null}}
},
{
"width":852,"height":16,
"data":{"name":"mo"},
"layer":[
{"transform":[{"filter":"datum.t != '2026'"}],
 "mark":{"type":"text","align":"center","baseline":"middle","fontSize":7.5,"color":"#7d7873"},
 "encoding":{
  "x":{"field":"d","type":"temporal","scale":{"type":"utc","domain":[1742886000000,1794787200000],"nice":false,"padding":0},"axis":null},
  "y":{"datum":0.45,"type":"quantitative","scale":{"domain":[0,1]},"axis":{"orient":"right","offset":-46,"labels":false,"ticks":false,"grid":false,"domain":true,"domainColor":"#8e8984","domainWidth":1.2,"title":null}},
  "text":{"field":"t"}}},
{"transform":[{"filter":"datum.t == '2026'"}],
 "mark":{"type":"text","align":"center","baseline":"middle","fontSize":7.5,"fontWeight":"bold","color":"#5a5552"},
 "encoding":{
  "x":{"field":"d","type":"temporal","scale":{"type":"utc","domain":[1742886000000,1794787200000],"nice":false,"padding":0},"axis":null},
  "y":{"datum":0.45,"type":"quantitative","axis":null},
  "text":{"field":"t"}}}
]
}
]
}
